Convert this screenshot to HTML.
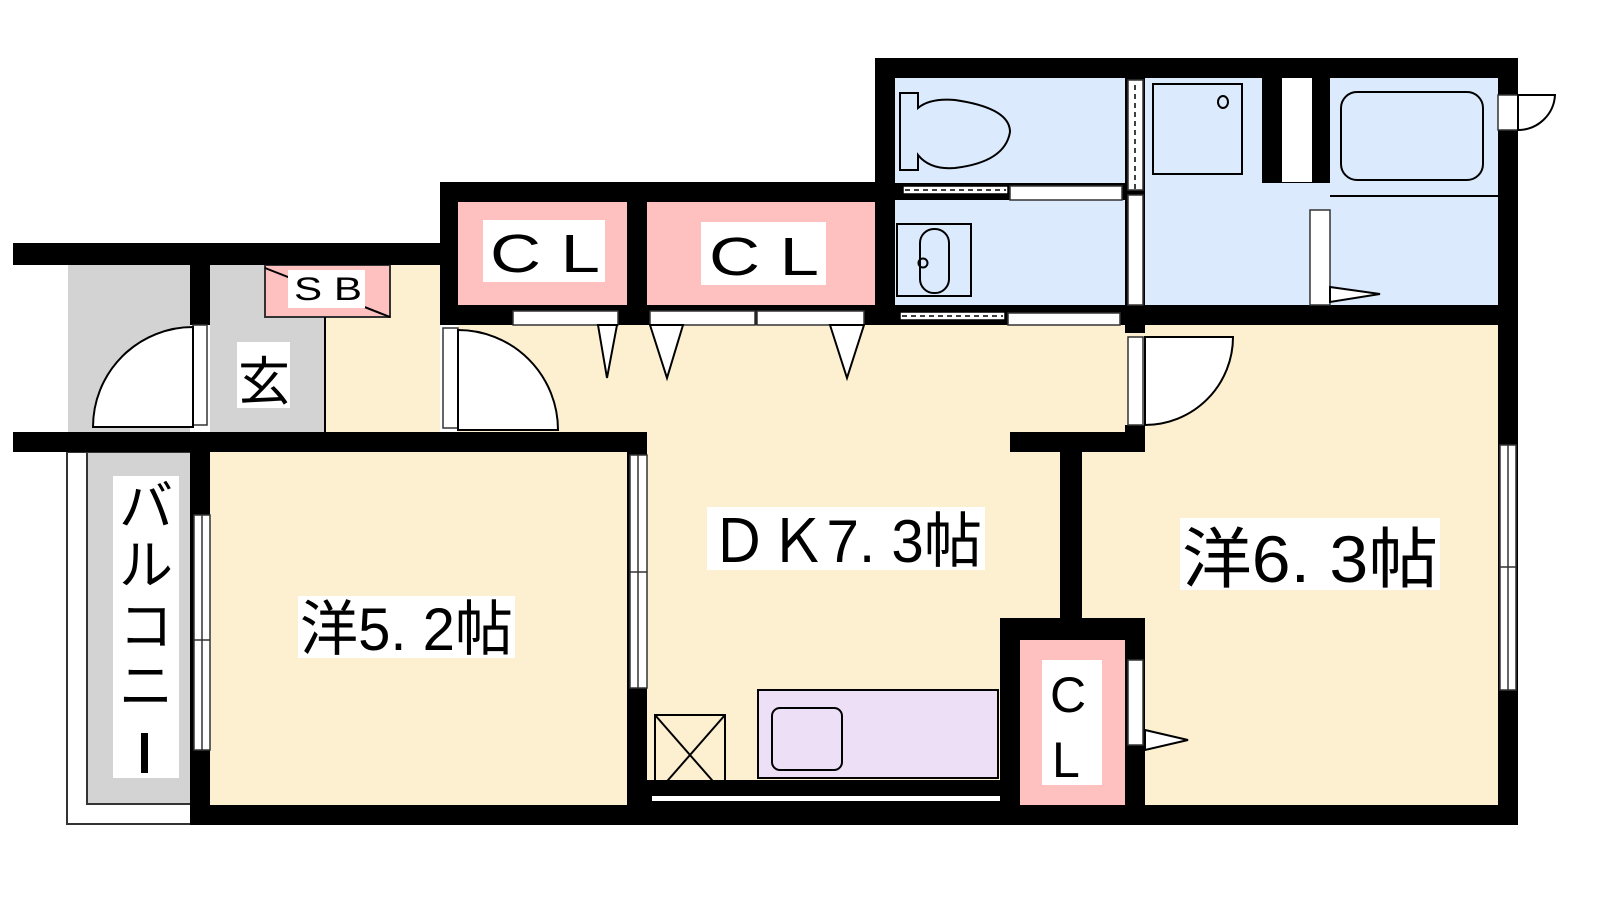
<!DOCTYPE html>
<html><head><meta charset="utf-8"><style>html,body{margin:0;padding:0;background:#fff}svg{display:block}</style></head>
<body>
<svg width="1600" height="900" viewBox="0 0 1600 900" xmlns="http://www.w3.org/2000/svg" font-family="'Liberation Sans','Noto Sans CJK JP',sans-serif">
<!-- floors -->
<rect x="68" y="265" width="122" height="167" fill="#d3d3d3"/>
<rect x="210" y="265" width="115" height="167" fill="#d3d3d3"/>
<rect x="325" y="265" width="115" height="167" fill="#fdf0d0"/>
<rect x="458" y="305" width="1060" height="520" fill="#fdf0d0"/>
<rect x="210" y="440" width="430" height="375" fill="#fdf0d0"/>
<rect x="458" y="202" width="169" height="103" fill="#ffc0c0"/>
<rect x="647" y="202" width="228" height="103" fill="#ffc0c0"/>
<rect x="895" y="78" width="603" height="230" fill="#dbeafd"/>
<!-- balcony -->
<rect x="67" y="452" width="127" height="372" fill="#fff" stroke="#333" stroke-width="2"/>
<rect x="87" y="452" width="107" height="352" fill="#d3d3d3" stroke="#333" stroke-width="2"/>
<rect x="113" y="476" width="66" height="302" fill="#fff"/>
<!-- SB -->
<rect x="265" y="265" width="125" height="52" fill="#ffc0c0" stroke="#333" stroke-width="2"/>
<line x1="265" y1="268" x2="390" y2="317" stroke="#000" stroke-width="2"/>
<rect x="288" y="270" width="77" height="38" fill="#fff"/>
<line x1="325" y1="317" x2="325" y2="432" stroke="#000" stroke-width="2"/>
<!-- walls -->
<g fill="#000">
<rect x="13" y="243" width="445" height="22"/>
<rect x="440" y="182" width="455" height="20"/>
<rect x="440" y="182" width="18" height="143"/>
<rect x="627" y="202" width="20" height="123"/>
<rect x="875" y="58" width="643" height="20"/>
<rect x="875" y="58" width="20" height="267"/>
<rect x="1498" y="58" width="20" height="767"/>
<rect x="440" y="305" width="1078" height="20"/>
<rect x="13" y="432" width="634" height="20"/>
<rect x="190" y="265" width="20" height="60"/>
<rect x="190" y="432" width="20" height="393"/>
<rect x="627" y="432" width="20" height="373"/>
<rect x="1010" y="432" width="135" height="20"/>
<rect x="1125" y="78" width="20" height="255"/>
<rect x="1125" y="425" width="20" height="27"/>
<rect x="1060" y="452" width="22" height="170"/>
<rect x="1000" y="618" width="145" height="207"/>
<rect x="190" y="805" width="1328" height="20"/>
<rect x="647" y="780" width="353" height="25"/>
<rect x="1262" y="78" width="68" height="105"/>
<rect x="895" y="183" width="230" height="17"/>
</g>
<rect x="1282" y="78" width="30" height="104" fill="#fff"/>
<rect x="1145" y="78" width="117" height="227" fill="#dbeafd"/>
<rect x="1312" y="183" width="18" height="122" fill="#dbeafd"/>
<rect x="1020" y="640" width="105" height="165" fill="#ffc0c0"/>
<rect x="652" y="796" width="348" height="5" fill="#fff"/>
<!-- windows -->
<g fill="#fff" stroke="#333" stroke-width="1.5">
<rect x="194" y="515" width="16" height="235"/>
<line x1="202" y1="515" x2="202" y2="750"/><line x1="194" y1="640" x2="210" y2="640"/>
<rect x="630" y="455" width="17" height="233"/>
<line x1="638" y1="455" x2="638" y2="688"/><line x1="630" y1="572" x2="647" y2="572"/>
<rect x="1500" y="445" width="16" height="245"/>
<line x1="1508" y1="445" x2="1508" y2="690"/><line x1="1500" y1="567" x2="1516" y2="567"/>
<rect x="513" y="311" width="105" height="14"/>
<rect x="650" y="311" width="105" height="14"/><rect x="757" y="311" width="107" height="14"/>
<rect x="1128" y="80" width="15" height="110"/>
<rect x="1128" y="195" width="15" height="110"/>
<rect x="1310" y="210" width="20" height="95"/>
<rect x="1128" y="337" width="15" height="88"/>
<rect x="1128" y="660" width="15" height="85"/>
<rect x="1498" y="95" width="20" height="35"/>
<rect x="1010" y="186" width="112" height="14"/>
<rect x="1008" y="313" width="112" height="12"/>
<rect x="193" y="325" width="14" height="100"/>
<rect x="443" y="328" width="15" height="100"/>
</g>
<g fill="#fff" stroke="#000" stroke-width="1.5">
<rect x="903" y="186" width="105" height="8"/>
<rect x="900" y="312" width="105" height="8"/>
</g>
<line x1="905" y1="190" x2="1006" y2="190" stroke="#000" stroke-width="1.5" stroke-dasharray="5,4"/>
<line x1="902" y1="316" x2="1003" y2="316" stroke="#000" stroke-width="1.5" stroke-dasharray="5,4"/>
<line x1="1135" y1="85" x2="1135" y2="190" stroke="#000" stroke-width="1.5" stroke-dasharray="5,4"/>
<!-- doors -->
<g fill="#fff" stroke="#000" stroke-width="2">
<path d="M193 327 A100 100 0 0 0 93 427 L193 427 Z"/>
<path d="M458 330 A100 100 0 0 1 558 430 L458 430 Z"/>
<path d="M1145 337 L1233 337 A88 88 0 0 1 1145 425 Z"/>
<path d="M1518 95 L1555 95 A37 37 0 0 1 1518 130 Z"/>
<path d="M598 325 L607 378 L617 325 Z"/>
<path d="M650 325 L667 378 L683 325 Z"/>
<path d="M830 325 L847 378 L864 325 Z"/>
<path d="M1145 730 L1188 740 L1145 750 Z"/>
<path d="M1330 287 L1380 294 L1330 302 Z"/>
</g>
<!-- fixtures -->
<g fill="none" stroke="#000" stroke-width="2">
<path d="M900 93 H918 V108 Q930 98 955 100 Q1010 108 1010 132 Q1005 162 955 168 Q930 170 918 155 V170 H900 Z" fill="#dbeafd"/>
<rect x="897" y="224" width="74" height="72"/>
<rect x="920" y="229" width="29" height="64" rx="14"/>
<circle cx="923" cy="263" r="4.5"/>
<rect x="1153" y="84" width="89" height="90"/>
<ellipse cx="1223" cy="102" rx="5" ry="6"/>
<rect x="1341" y="92" width="142" height="88" rx="16"/>
<line x1="1330" y1="196" x2="1498" y2="196"/>
<rect x="655" y="715" width="70" height="80"/>
<line x1="655" y1="715" x2="725" y2="795"/><line x1="725" y1="715" x2="655" y2="795"/>
<rect x="758" y="690" width="240" height="88" fill="#eddff5"/>
<rect x="772" y="708" width="70" height="62" rx="8"/>
</g>
<!-- label boxes -->
<g fill="#fff">
<rect x="483" y="220" width="122" height="62"/>
<rect x="701" y="222" width="125" height="63"/>
<rect x="237" y="342" width="53" height="66"/>
<rect x="707" y="507" width="278" height="63"/>
<rect x="1180" y="518" width="260" height="72"/>
<rect x="298" y="596" width="217" height="62"/>
<rect x="1042" y="660" width="60" height="125"/>
</g>
<g fill="#000">
<text x="490" y="272" font-size="54" textLength="110" lengthAdjust="spacingAndGlyphs">C L</text>
<text x="709" y="275" font-size="54" textLength="110" lengthAdjust="spacingAndGlyphs">C L</text>
<text x="294" y="300" font-size="32" textLength="68" lengthAdjust="spacingAndGlyphs">S B</text>
<text x="238" y="400" font-size="52">玄</text>
<text x="710" y="562" font-size="60" textLength="272" lengthAdjust="spacingAndGlyphs">ＤＫ7. 3帖</text>
<text x="1182" y="582" font-size="66" textLength="256" lengthAdjust="spacingAndGlyphs">洋6. 3帖</text>
<text x="300" y="650" font-size="60" textLength="213" lengthAdjust="spacingAndGlyphs">洋5. 2帖</text>
<text x="1050" y="712" font-size="50">C</text>
<text x="1052" y="777" font-size="50">L</text>
<text x="146" y="525" font-size="54" text-anchor="middle">バ</text>
<text x="146" y="584" font-size="54" text-anchor="middle">ル</text>
<text x="146" y="645" font-size="54" text-anchor="middle">コ</text>
<text x="146" y="705" font-size="54" text-anchor="middle">ニ</text>
<rect x="141" y="733" width="7" height="40"/>
</g>
</svg>
</body></html>
